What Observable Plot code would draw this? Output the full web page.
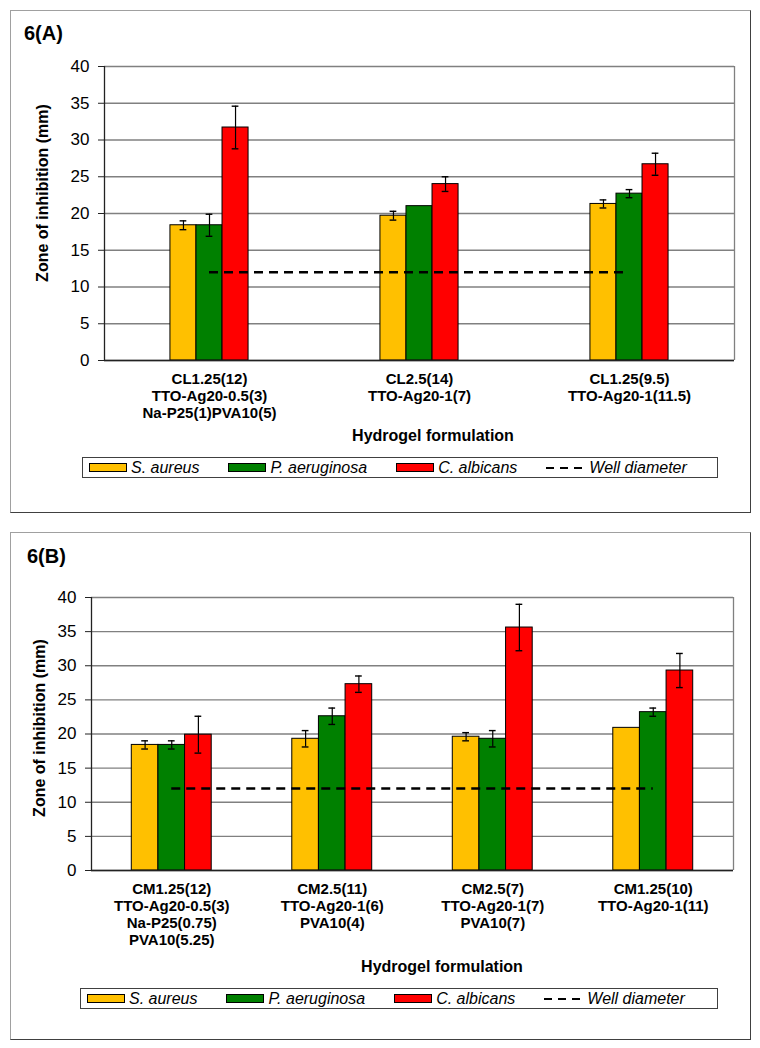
<!DOCTYPE html>
<html><head><meta charset="utf-8">
<script src="https://cdn.jsdelivr.net/npm/d3@7"></script>
<script src="https://cdn.jsdelivr.net/npm/@observablehq/plot@0.6"></script>
<style>
body{margin:0;width:760px;height:1048px;position:relative;background:#fff;font-family:"Liberation Sans",Arial,sans-serif;overflow:hidden;color:#000}
.box{position:absolute;box-sizing:border-box;border:1px solid;border-color:#a0a0a0 #404040 #404040 #a0a0a0}
.abs{position:absolute;white-space:nowrap}
.title{font-weight:bold;font-size:20px;line-height:20px}
.ylab{font-weight:bold;font-size:16px;line-height:16px;transform:translate(-50%,-50%) rotate(-90deg)}
.xlab{font-weight:bold;font-size:16px;line-height:16px;transform:translate(-50%,-50%)}
.legend{position:absolute;box-sizing:border-box;border:1px solid #404040;display:flex;align-items:center;padding-left:6px;font-style:italic;font-size:16px;line-height:18px}
.legend .item{display:flex;align-items:center;margin-right:29px}
.legend .sw{display:inline-block;box-sizing:border-box;width:38px;height:9px;border:1px solid #000;margin-right:4px}
.legend svg{margin-right:4px}
.plot{position:absolute;left:0}
</style></head><body>
<script>
// ---- data ----
const seriesNames = ["S. aureus", "P. aeruginosa", "C. albicans"];
const seriesColors = ["#FFC000", "#008000", "#FF0000"];
const wellLabel = "Well diameter";
const wellDiameter = 12;
const yTicks = [0, 5, 10, 15, 20, 25, 30, 35, 40];
const xTitle = "Hydrogel formulation";
const yTitle = "Zone of inhibition (mm)";

const categoriesA = [
  "CL1.25(12)\nTTO-Ag20-0.5(3)\nNa-P25(1)PVA10(5)",
  "CL2.5(14)\nTTO-Ag20-1(7)",
  "CL1.25(9.5)\nTTO-Ag20-1(11.5)"
];
const aureusA = [18.4, 19.7, 21.3];
const aureusErrA = [0.6, 0.6, 0.55];
const aeruginosaA = [18.4, 21.0, 22.7];
const aeruginosaErrA = [1.5, 0, 0.55];
const albicansA = [31.7, 24.0, 26.7];
const albicansErrA = [2.9, 1.0, 1.5];

const categoriesB = [
  "CM1.25(12)\nTTO-Ag20-0.5(3)\nNa-P25(0.75)\nPVA10(5.25)",
  "CM2.5(11)\nTTO-Ag20-1(6)\nPVA10(4)",
  "CM2.5(7)\nTTO-Ag20-1(7)\nPVA10(7)",
  "CM1.25(10)\nTTO-Ag20-1(11)"
];
const aureusB = [18.4, 19.3, 19.6, 20.9];
const aureusErrB = [0.6, 1.2, 0.6, 0];
const aeruginosaB = [18.4, 22.6, 19.3, 23.2];
const aeruginosaErrB = [0.6, 1.2, 1.2, 0.6];
const albicansB = [19.9, 27.3, 35.6, 29.3];
const albicansErrB = [2.7, 1.2, 3.4, 2.5];

// ---- helpers ----
const FONT = '"Liberation Sans", Arial, sans-serif';
function rowsOf(vals, errs) {
  const rows = [];
  vals.forEach((series, si) => series.forEach((v, gi) => rows.push({gi, si, value: v, err: errs[si][gi]})));
  return rows;
}
function addDiv(cls, text, css) {
  const d = document.createElement("div");
  d.className = cls;
  d.textContent = text;
  Object.assign(d.style, css);
  document.body.appendChild(d);
  return d;
}
function chart(o) {
  const n = o.cats.length;
  const xDomain = [-0.5, n - 0.5];
  const rows = rowsOf(o.vals, o.errs);
  const errRows = rows.filter(d => d.err > 0);
  const cx = d => d.gi + (d.si - 1) * o.barW;
  const svg = Plot.plot({
    width: 760, height: o.height,
    marginTop: o.mt, marginBottom: o.mb, marginLeft: o.ml, marginRight: o.mr,
    x: {domain: xDomain},
    y: {domain: [0, 40]},
    style: {fontFamily: FONT, background: "transparent", overflow: "visible", color: "#000"},
    marks: [
      Plot.gridY(yTicks, {stroke: "#808080", strokeOpacity: 1, strokeWidth: 1.3}),
      Plot.ruleX([xDomain[1]], {stroke: "#808080", strokeWidth: 1.3}),
      Plot.rectY(rows, {x1: d => cx(d) - o.barW / 2, x2: d => cx(d) + o.barW / 2, y1: 0, y2: "value",
        fill: d => seriesColors[d.si], stroke: "#000", strokeWidth: 1}),
      Plot.ruleY([wellDiameter], {x1: 0, x2: n - 1, stroke: "#000", strokeWidth: 2.5, strokeDasharray: "9,6"}),
      Plot.ruleX(errRows, {x: cx, y1: d => d.value - d.err, y2: d => d.value + d.err, stroke: "#000", strokeWidth: 1.2}),
      Plot.ruleY(errRows, {y: d => d.value + d.err, x1: d => cx(d) - o.cap, x2: d => cx(d) + o.cap, stroke: "#000", strokeWidth: 1.4}),
      Plot.ruleY(errRows, {y: d => d.value - d.err, x1: d => cx(d) - o.cap, x2: d => cx(d) + o.cap, stroke: "#000", strokeWidth: 1.4}),
      Plot.ruleY([0], {stroke: "#222", strokeWidth: 1.3}),
      Plot.ruleX([xDomain[0]], {stroke: "#222", strokeWidth: 1.3}),
      Plot.axisY({ticks: yTicks, tickSize: 6, tickPadding: 9, fontSize: 17, stroke: "#222", label: null}),
      Plot.axisX({ticks: d3.range(n), tickFormat: i => o.cats[i], tickSize: 0, tickPadding: 11,
        fontSize: 15, fontWeight: "bold", lineHeight: 1.14, label: null})
    ]
  });
  svg.classList.add("plot");
  svg.style.top = o.top + "px";
  document.body.appendChild(svg);
}
function legend(left, top, width, height) {
  const L = document.createElement("div");
  L.className = "legend";
  Object.assign(L.style, {left: left + "px", top: top + "px", width: width + "px", height: height + "px"});
  seriesNames.forEach((name, i) => {
    const it = document.createElement("span");
    it.className = "item";
    const sw = document.createElement("span");
    sw.className = "sw";
    sw.style.background = seriesColors[i];
    it.appendChild(sw);
    it.appendChild(document.createTextNode(name));
    L.appendChild(it);
  });
  const it = document.createElement("span");
  it.className = "item";
  it.innerHTML = '<svg width="39" height="10"><line x1="0" x2="39" y1="5" y2="5" stroke="#000" stroke-width="2" stroke-dasharray="8,6"/></svg>';
  it.appendChild(document.createTextNode(wellLabel));
  L.appendChild(it);
  document.body.appendChild(L);
}

// ---- panel A ----
addDiv("box", "", {left: "10px", top: "10px", width: "741px", height: "503px"});
addDiv("abs title", "6(A)", {left: "24px", top: "23px"});
chart({cats: categoriesA, vals: [aureusA, aeruginosaA, albicansA], errs: [aureusErrA, aeruginosaErrA, albicansErrA],
  top: 50, height: 380, mt: 16, mb: 70, ml: 104, mr: 26, barW: 0.124, cap: 0.016});
addDiv("abs ylab", yTitle, {left: "42.5px", top: "192.5px"});
addDiv("abs xlab", xTitle, {left: "433px", top: "436px"});
legend(82, 457, 636, 21);

// ---- panel B ----
addDiv("box", "", {left: "10px", top: "532px", width: "741px", height: "508px"});
addDiv("abs title", "6(B)", {left: "27px", top: "546px"});
chart({cats: categoriesB, vals: [aureusB, aeruginosaB, albicansB], errs: [aureusErrB, aeruginosaErrB, albicansErrB],
  top: 580, height: 380, mt: 17, mb: 90, ml: 91, mr: 27, barW: 0.166, cap: 0.021});
addDiv("abs ylab", yTitle, {left: "40px", top: "727.5px"});
addDiv("abs xlab", xTitle, {left: "442px", top: "967px"});
legend(80, 988, 638, 21);
</script>
</body></html>
